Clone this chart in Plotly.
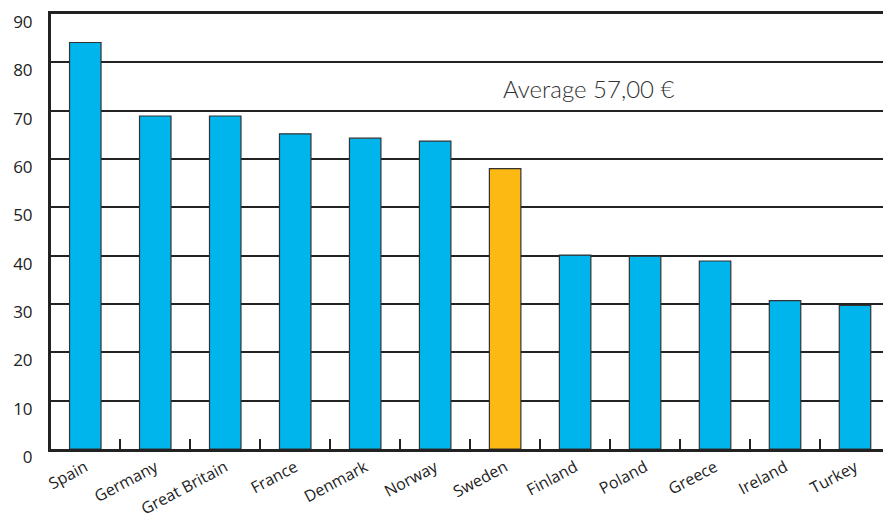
import plotly.graph_objects as go

countries = ["Spain", "Germany", "Great Britain", "France", "Denmark", "Norway",
             "Sweden", "Finland", "Poland", "Greece", "Ireland", "Turkey"]
prices = [84.1, 68.9, 68.9, 65.2, 64.3, 63.7, 58.0, 40.1, 39.9, 38.9, 30.7, 29.7]
highlight = "Sweden"
average_label = "Average 57,00 €"
y_ticks = [0, 10, 20, 30, 40, 50, 60, 70, 80, 90]

blue = "#00B5EC"
orange = "#FDB913"
colors = [orange if c == highlight else blue for c in countries]

fig = go.Figure(
    go.Bar(
        x=countries,
        y=prices,
        marker=dict(color=colors, line=dict(color="#333333", width=1.2)),
        width=0.45,
    )
)

fig.add_annotation(
    x=7.2, y=74.5, xref="x", yref="y",
    text=average_label, showarrow=False,
    font=dict(family="Lato", size=24, color="#333333", weight=300),
)

fig.update_layout(
    width=883, height=513,
    margin=dict(l=51, r=0, t=14, b=64),
    paper_bgcolor="white", plot_bgcolor="white",
    showlegend=False,
    font=dict(family="Open Sans", color="#222222"),
)

fig.update_xaxes(
    range=[-0.49, 11.4], automargin=False,
    tickson="boundaries", ticks="inside", ticklen=10, tickwidth=2, tickcolor="#222222",
    tickangle=-28, tickfont=dict(size=16),
    showline=True, linecolor="#222222", linewidth=3, mirror=True,
    showgrid=False,
)

fig.update_yaxes(
    range=[0, 90], tickvals=y_ticks, automargin=False,
    showgrid=True, gridcolor="#222222", gridwidth=2.2,
    showline=True, linecolor="#222222", linewidth=3,
    zeroline=False, ticks="", tickfont=dict(size=17),
    ticklabelstandoff=12, ticklabelshift=8,
)

fig.write_html("out.html")
